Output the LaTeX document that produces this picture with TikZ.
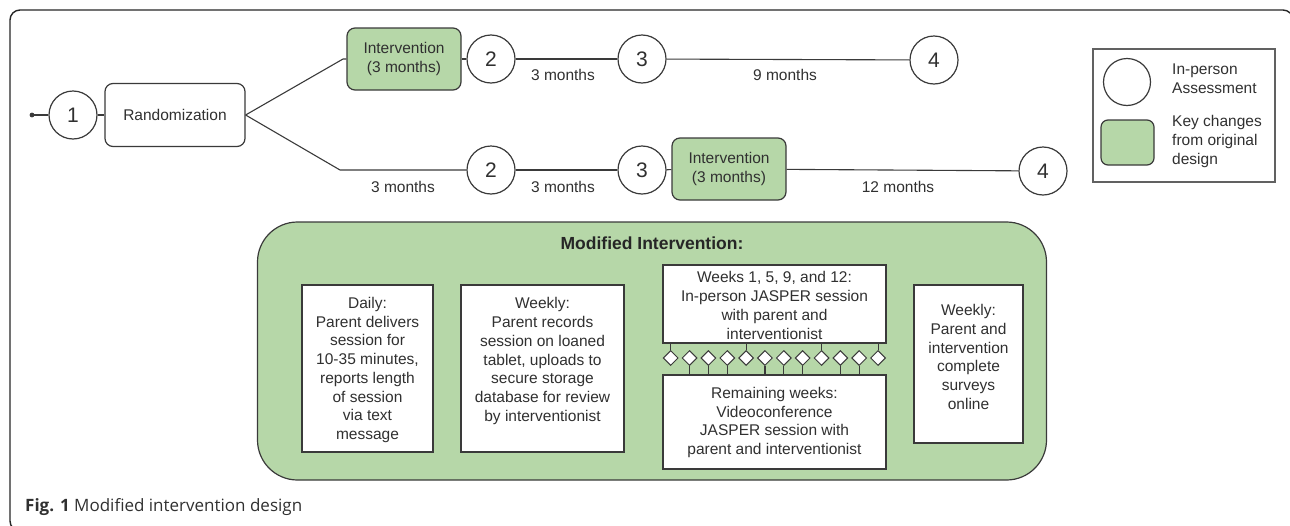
\documentclass[tikz,border=0pt]{standalone}
\usepackage{fontspec}
\setmainfont{Liberation Sans}
\newfontfamily\capfont{Open Sans}
\usetikzlibrary{shapes.geometric}
\definecolor{gfill}{HTML}{B6D7A8}
\definecolor{ink}{HTML}{303030}
\definecolor{edge}{HTML}{3A3A3A}
\begin{document}
\begin{tikzpicture}[x=1pt,y=-1pt,
  txt/.style={font=\fontsize{15.5}{18.7}\selectfont, text=ink, inner sep=0pt, align=center},
  assess/.style={circle, draw=edge, line width=1.2pt, fill=white, minimum size=48pt, inner sep=0pt, font=\fontsize{21}{24}\selectfont, text=ink},
  greenbox/.style={rectangle, rounded corners=8pt, draw=edge, line width=1.2pt, fill=gfill, inner sep=0pt, txt},
  whitebox/.style={rectangle, draw=edge, line width=1.2pt, fill=white, inner sep=0pt},
  conn/.style={draw=edge, line width=1.1pt},
  weekmark/.style={diamond, draw=edge, line width=1pt, fill=white, minimum width=15pt, minimum height=15pt, inner sep=0pt},
]
\useasboundingbox (0,0) rectangle (1290,525);
\begin{scope}
\clip (0,0) rectangle (1290,525);
\draw[black!85, line width=1.4pt, rounded corners=10pt] (10,10) rectangle (1293,531);
\end{scope}

% top timeline nodes
\coordinate (start) at (32,115);
\node[assess] (a1) at (73,115) {1};
\node[whitebox, rounded corners=8pt, minimum width=140pt, minimum height=63pt, txt] (rand) at (175,115) {Randomization};
\node[greenbox, minimum width=114pt, minimum height=62pt] (int1) at (404,59) {Intervention\\(3 months)};
\node[assess] (u2) at (491,59) {2};
\node[assess] (u3) at (642,59) {3};
\node[assess] (u4) at (934,60) {4};
\coordinate (fu) at (343,59);
\coordinate (fl) at (340,170);
\node[assess] (l2) at (491,170) {2};
\node[assess] (l3) at (642,170) {3};
\node[greenbox, minimum width=114pt, minimum height=62pt] (int2) at (729,169) {Intervention\\(3 months)};
\node[assess] (l4) at (1043,171) {4};

\fill[edge] (start) circle (2.4pt);
\draw[conn] (start) -- (a1);
\draw[conn] (a1) -- (rand);
\draw[conn] (rand.east) -- (fu) -- (int1.west);
\draw[conn] (rand.east) -- (fl) -- (l2.west);
\draw[conn] (int1) -- (u2);
\draw[conn] (u2) -- (u3);
\draw[conn] (u3) -- (u4);
\draw[conn] (l2) -- (l3);
\draw[conn] (l3) -- (int2);
\draw[conn] (int2) -- (l4);

\node[txt] (m1) at (563,75) {3 months};
\node[txt] (m2) at (785,75) {9 months};
\node[txt] (m3) at (403,187) {3 months};
\node[txt] (m4) at (563,187) {3 months};
\node[txt] (m5) at (898,187) {12 months};

% legend
\node[rectangle, draw=edge!80, line width=1.1pt, minimum width=182pt, minimum height=133pt, inner sep=0pt] (legend) at (1184,115.5) {};
\node[circle, draw=edge, line width=1.2pt, minimum size=47pt, inner sep=0pt] (lc) at (1127,82) {};
\node[rectangle, rounded corners=7pt, draw=edge, line width=1.2pt, fill=gfill, minimum width=53pt, minimum height=45pt, inner sep=0pt] (lg) at (1127.5,142.5) {};
\node[txt, align=left, anchor=west] (lt1) at (1172,78.5) {In-person\\Assessment};
\node[txt, align=left, anchor=west] (lt2) at (1172,141.5) {Key changes\\from original\\design};

% modified intervention panel
\node[rectangle, rounded corners=40pt, draw=edge, line width=1.2pt, fill=gfill, minimum width=789pt, minimum height=258pt, inner sep=0pt] (panel) at (652,351) {};
\node[font=\fontsize{17.5}{20}\selectfont\bfseries, text=black!85, inner sep=0pt] (ptitle) at (652,243) {Modified Intervention:};

\node[whitebox, minimum width=131pt, minimum height=167pt] (daily) at (367.5,368.5) {};
\node[txt] (dailyt) at ([yshift=-1.5pt]daily.center) {Daily:\\Parent delivers\\session for\\10-35 minutes,\\reports length\\of session\\via text\\message};

\node[whitebox, minimum width=163pt, minimum height=167pt] (weekly) at (542.5,368.5) {};
\node[txt] (weeklyt) at ([yshift=7.5pt]weekly.center) {Weekly:\\Parent records\\session on loaned\\tablet, uploads to\\secure storage\\database for review\\by interventionist};

\node[whitebox, minimum width=223pt, minimum height=78pt] (wk) at (774.5,304) {};
\node[txt] (wkt) at ([yshift=-1.5pt]wk.center) {Weeks 1, 5, 9, and 12:\\In-person JASPER session\\with parent and\\interventionist};

\node[whitebox, minimum width=223pt, minimum height=94pt] (rem) at (774.5,422) {};
\node[txt] (remt) at ([yshift=-0.5pt]rem.center) {Remaining weeks:\\Videoconference\\JASPER session with\\parent and interventionist};

\node[whitebox, minimum width=109pt, minimum height=158pt] (survey) at (968.5,364) {};
\node[txt] (surveyt) at ([yshift=7pt]survey.center) {Weekly:\\Parent and\\intervention\\complete\\surveys\\online};

% weekly diamonds
\foreach \i in {1,...,12} {
  \node[weekmark] (d\i) at ({670.7+(\i-1)*18.85},358) {};
}
\foreach \i in {1,5,9,12} {
  \draw[conn] (d\i.north) -- (d\i.north |- wk.south);
}
\foreach \i in {2,3,4,6,7,8,10,11} {
  \draw[conn] (d\i.south) -- (d\i.south |- rem.north);
}

% caption
\node[anchor=base west, inner sep=0pt, font=\capfont\fontsize{17}{20}\selectfont, text=ink] (cap) at (25,511) {\textbf{Fig. 1} Modified intervention design};
\end{tikzpicture}
\end{document}
